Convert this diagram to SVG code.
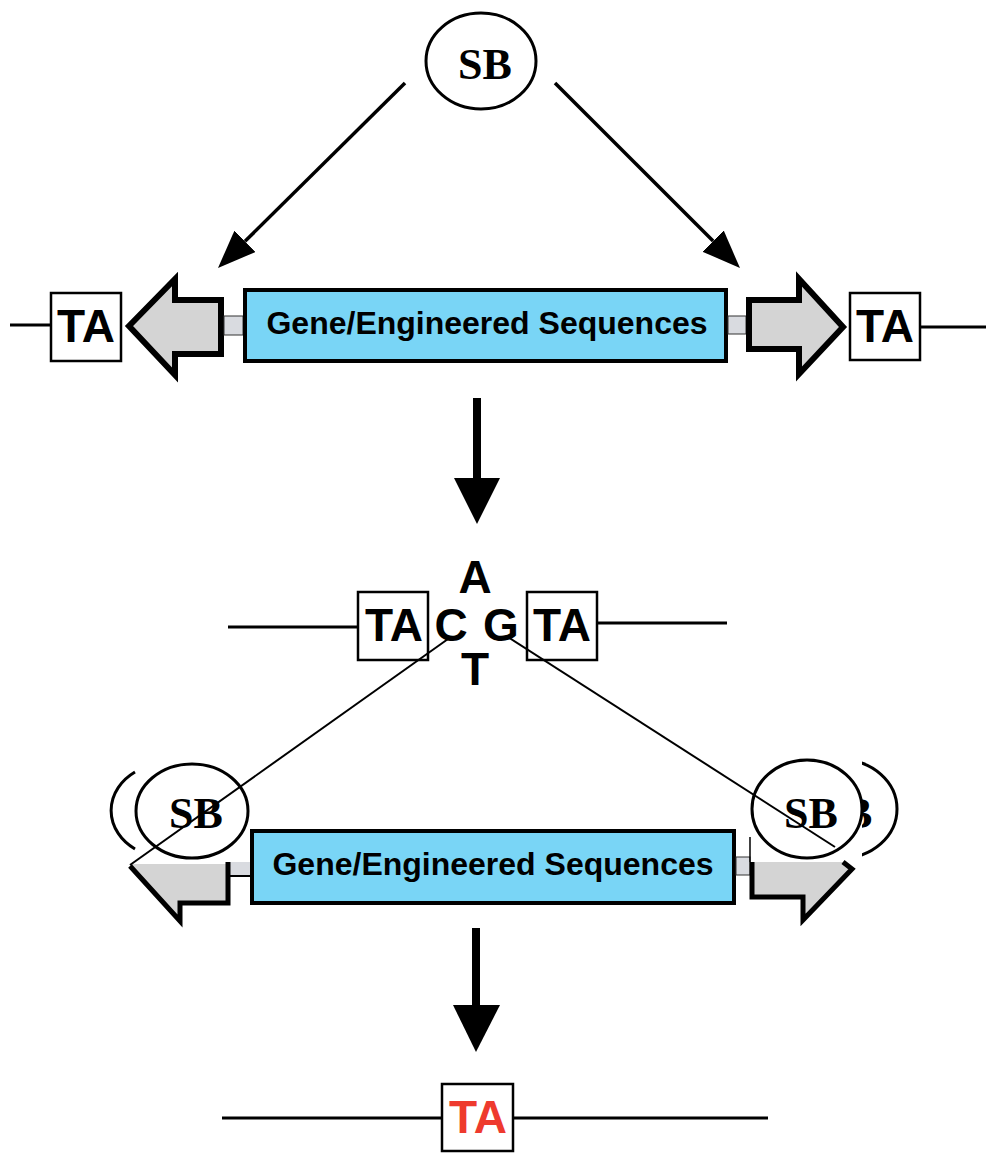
<svg xmlns="http://www.w3.org/2000/svg" width="986" height="1153" viewBox="0 0 986 1153">
  <style>
    .dna { stroke: #000; stroke-width: 3; fill: none; }
    .site { fill: #fff; stroke: #000; stroke-width: 2.5; }
    .ta { font-family: "Liberation Sans", Arial, sans-serif; font-weight: bold; font-size: 46px; text-anchor: middle; fill: #000; }
    .base { font-family: "Liberation Sans", Arial, sans-serif; font-weight: bold; font-size: 46px; text-anchor: middle; fill: #000; }
    .gene { fill: #79d5f6; stroke: #000; stroke-width: 4; }
    .genetxt { font-family: "Liberation Sans", Arial, sans-serif; font-weight: bold; font-size: 32px; text-anchor: middle; fill: #000; }
    .ir { fill: #d4d4d4; stroke: #000; stroke-width: 6; stroke-linejoin: miter; }
    .irline { fill: none; stroke: #000; stroke-width: 5; stroke-linejoin: miter; }
    .link { fill: #d9dbe0; stroke: #333; stroke-width: 1; }
    .sb { fill: #fff; stroke: #000; stroke-width: 3; }
    .sbtxt { font-family: "Liberation Serif", "Times New Roman", serif; font-weight: bold; font-size: 44px; text-anchor: middle; fill: #000; }
    .arrow { stroke: #000; stroke-width: 3.5; fill: none; }
    .bigarrow { stroke: #000; stroke-width: 8; fill: none; }
    .thin { stroke: #000; stroke-width: 2; fill: none; }
  </style>
  <defs>
    <marker id="head" viewBox="0 0 38 30" refX="0" refY="15" markerWidth="38" markerHeight="30" markerUnits="userSpaceOnUse" orient="auto">
      <path d="M0,0 L38,15 L0,30 z" fill="#000"/>
    </marker>
    <clipPath id="clipShadowR">
      <rect x="862" y="740" width="60" height="130"/>
    </clipPath>
    <clipPath id="clipShadowL">
      <rect x="100" y="740" width="36" height="130"/>
    </clipPath>
  </defs>

  <rect width="986" height="1153" fill="#fff"/>

  <!-- Transposase above the transposon -->
  <g id="sb-top">
    <ellipse class="sb" cx="481" cy="61" rx="55" ry="48"/>
    <text class="sbtxt" x="485" y="79">SB</text>
  </g>

  <!-- Transposon in the donor DNA -->
  <g id="donor-dna">
    <line class="dna" x1="10" y1="325" x2="51" y2="325"/>
    <line class="dna" x1="920" y1="327" x2="986" y2="327"/>
  </g>
  <g id="ta-left">
    <rect class="site" x="51" y="293" width="70" height="68"/>
    <text class="ta" x="86" y="342">TA</text>
  </g>
  <g id="ir-left">
    <polygon class="ir" points="129,326 175,279 175,300 221,300 221,354 175,354 175,375"/>
    <rect class="link" x="224" y="316" width="19" height="19"/>
  </g>
  <g id="gene-top">
    <rect class="gene" x="245" y="290" width="481" height="71"/>
    <text class="genetxt" x="487" y="334">Gene/Engineered Sequences</text>
  </g>
  <g id="ir-right">
    <rect class="link" x="728" y="316" width="18" height="18"/>
    <polygon class="ir" points="749,300 799,300 799,279 843,327 799,374 799,349 749,349"/>
  </g>
  <g id="ta-right">
    <rect class="site" x="850" y="293" width="70" height="67"/>
    <text class="ta" x="885" y="342">TA</text>
  </g>

  <!-- Excision site left in the donor DNA -->
  <g id="excision-site">
    <line class="dna" x1="228" y1="627" x2="358" y2="627"/>
    <line class="dna" x1="598" y1="623" x2="727" y2="623"/>
    <rect class="site" x="358" y="592" width="70" height="68"/>
    <text class="ta" x="394" y="641">TA</text>
    <rect class="site" x="527" y="592" width="70" height="68"/>
    <text class="ta" x="562" y="641">TA</text>
    <text class="base" x="451" y="641">C</text>
    <text class="base" x="501" y="641">G</text>
    <text class="base" x="475" y="593">A</text>
    <text class="base" x="475" y="685">T</text>
  </g>

  <!-- Excised transposon bound by transposase -->
  <g id="ir-left-bound">
    <rect x="229" y="862" width="21" height="14" fill="#d9dbe0"/>
    <line x1="229" y1="876" x2="250" y2="876" stroke="#000" stroke-width="2"/>
    <polygon points="130,864 228,864 228,903 180,903 180,921" fill="#d4d4d4"/>
    <polyline class="irline" points="228,862 228,903 180,903 180,921 130,866"/>
  </g>
  <g id="gene-bound">
    <rect class="gene" x="252" y="831" width="482" height="72"/>
    <text class="genetxt" x="493" y="875">Gene/Engineered Sequences</text>
  </g>
  <g id="ir-right-bound">
    <rect class="link" x="736" y="857" width="14" height="18"/>
    <line x1="750" y1="837" x2="750" y2="862" stroke="#000" stroke-width="1.5"/>
    <polygon points="752,862 843,862 852,869 803,920 803,897 752,897" fill="#d4d4d4"/>
    <polyline class="irline" points="752,862 752,897 803,897 803,920 852,869 843,862"/>
  </g>
  <g id="sb-left">
    <g clip-path="url(#clipShadowL)">
      <path d="M135,772 A56,47 0 0,0 135,849" fill="none" stroke="#000" stroke-width="3"/>
    </g>
    <ellipse class="sb" cx="192" cy="811" rx="56" ry="47"/>
    <text class="sbtxt" x="196" y="828">SB</text>
  </g>
  <g id="sb-right">
    <!-- offset copy of the circle peeking out behind it -->
    <g clip-path="url(#clipShadowR)">
      <ellipse cx="842" cy="809" rx="55" ry="49" fill="none" stroke="#000" stroke-width="3"/>
      <text class="sbtxt" x="843" y="828" text-anchor="start" style="text-anchor:start">B</text>
    </g>
    <ellipse class="sb" cx="807" cy="809" rx="55" ry="49"/>
    <text class="sbtxt" x="811" y="828">SB</text>
  </g>

  <!-- Target DNA after integration -->
  <g id="target-dna">
    <line class="dna" x1="222" y1="1118" x2="442" y2="1118"/>
    <line class="dna" x1="513" y1="1118" x2="768" y2="1118"/>
  </g>
  <g id="ta-target">
    <rect class="site" x="442" y="1084" width="71" height="67"/>
    <text class="ta" x="478" y="1133" style="fill:#ee3a2e">TA</text>
  </g>

  <!-- Connectors -->
  <g id="connectors">
    <line class="arrow" x1="405" y1="83" x2="245" y2="241.3" marker-end="url(#head)"/>
    <line class="arrow" x1="555" y1="83" x2="713.1" y2="241.1" marker-end="url(#head)"/>
    <line class="bigarrow" x1="477" y1="398" x2="477" y2="480"/>
    <polygon points="454,478 500,478 477,524" fill="#000"/>
    <line class="bigarrow" x1="476" y1="928" x2="476" y2="1007"/>
    <polygon points="453,1005 500,1005 476,1052" fill="#000"/>
    <line class="thin" x1="448" y1="639" x2="130" y2="865"/>
    <line class="thin" x1="508" y1="637" x2="835" y2="847"/>
  </g>
</svg>
